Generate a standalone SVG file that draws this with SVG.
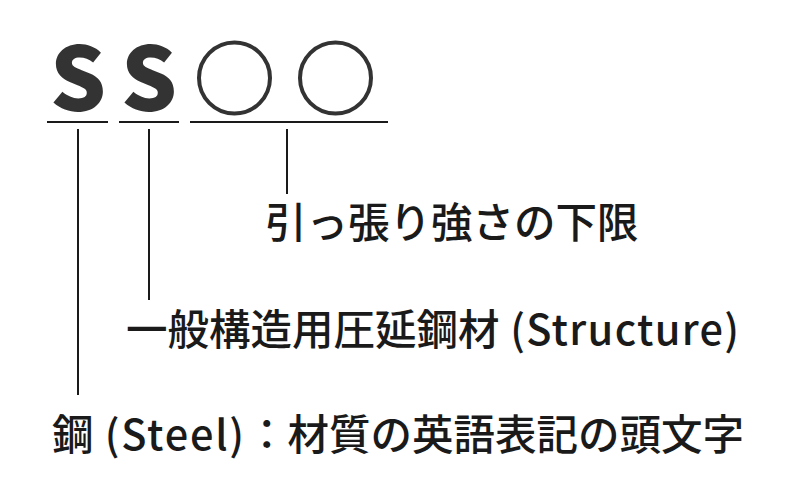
<svg xmlns="http://www.w3.org/2000/svg" width="800" height="492" viewBox="0 0 800 492">
<style>
.big{font-family:"Noto Sans CJK JP","Noto Sans",sans-serif;font-weight:900;font-size:88px;fill:#333;text-anchor:middle}
.lbl{font-family:"Noto Sans CJK JP","Noto Sans",sans-serif;font-weight:500;font-size:41.5px;fill:#1a1a1a}
.lat{letter-spacing:1.3px}
.ring{fill:none;stroke:#333;stroke-width:4}
.ln{stroke:#1a1a1a;stroke-width:2;fill:none}
</style>
<rect width="800" height="492" fill="#fff"/>
<g id="char-s1"><text class="big" x="78" y="111">S</text></g>
<g id="char-s2"><text class="big" x="149" y="111">S</text></g>
<g id="char-o1"><circle class="ring" cx="234.5" cy="78" r="35.5"/></g>
<g id="char-o2"><circle class="ring" cx="335.5" cy="78" r="35.5"/></g>
<g id="connectors">
<line class="ln" x1="47" y1="122" x2="108" y2="122"/>
<line class="ln" x1="119" y1="122" x2="179" y2="122"/>
<line class="ln" x1="190" y1="122" x2="388" y2="122"/>
<line class="ln" x1="78" y1="129" x2="78" y2="395"/>
<line class="ln" x1="149" y1="129" x2="149" y2="300"/>
<line class="ln" x1="287" y1="129" x2="287" y2="194"/>
</g>
<g id="label-strength"><text class="lbl" x="265" y="238">引っ張り強さの下限</text></g>
<g id="label-structure"><text class="lbl" x="126" y="345">一般構造用圧延鋼材<tspan class="lat"> (Structure)</tspan></text></g>
<g id="label-steel"><text class="lbl" x="52" y="450">鋼<tspan class="lat" style="letter-spacing:1.8px"> (Steel)</tspan>：材質の英語表記の頭文字</text></g>
</svg>
